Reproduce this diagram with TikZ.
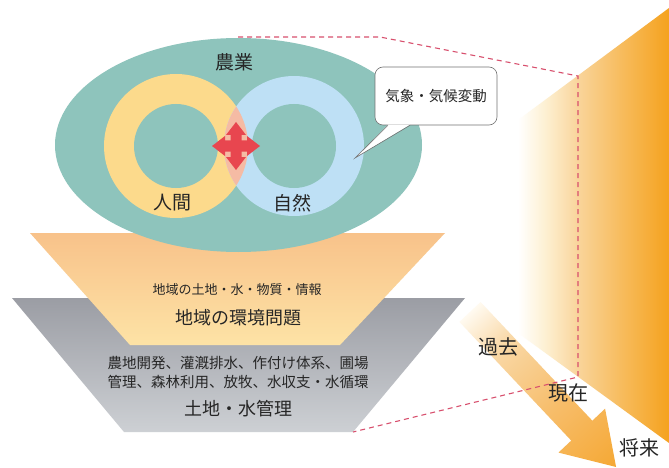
\documentclass[tikz,border=0pt]{standalone}
\usepackage{fontspec}
\setmainfont{Noto Sans CJK JP}
\definecolor{txt}{HTML}{262626}
\definecolor{tealc}{HTML}{8EC4BC}
\definecolor{ringy}{HTML}{FCDA8C}
\definecolor{ringb}{HTML}{BEE0F5}
\definecolor{pinkov}{HTML}{F5BBA4}
\definecolor{crossred}{HTML}{E8464F}
\definecolor{oran1}{HTML}{F8C28A}
\definecolor{oran2}{HTML}{FDE3A6}
\definecolor{grey1}{HTML}{9B9DA4}
\definecolor{grey2}{HTML}{CDD0D4}
\definecolor{dashc}{HTML}{D8506E}
\definecolor{pwhite}{HTML}{FFFFFF}
\definecolor{pcream}{HTML}{FDF0D2}
\definecolor{plight}{HTML}{F9D49A}
\definecolor{pmid}{HTML}{F7BC5E}
\definecolor{pdeep}{HTML}{F5A21E}
\definecolor{a0}{HTML}{FFFAF0}
\definecolor{a1}{HTML}{F9D8A6}
\definecolor{a2}{HTML}{F7BD6A}
\definecolor{a3}{HTML}{F5A834}
\pgfdeclarehorizontalshading{panelshade}{100bp}{color(0bp)=(pwhite); color(25bp)=(pwhite); color(34bp)=(pcream); color(45bp)=(plight); color(59bp)=(pmid); color(75bp)=(pdeep); color(100bp)=(pdeep)}
\pgfdeclarehorizontalshading{arrowshade}{100bp}{color(0bp)=(a0); color(25bp)=(a0); color(36bp)=(a1); color(55bp)=(a2); color(75bp)=(a3); color(100bp)=(a3)}
\begin{document}
\begin{tikzpicture}[x=1pt,y=1pt,
  lab/.style={text=txt, inner sep=0pt},
  fbig/.style={font=\fontsize{19}{19}\selectfont},
  fmid/.style={font=\fontsize{14.5}{14.5}\selectfont},
  fsmall/.style={font=\fontsize{13}{13}\selectfont},
  pinkdash/.style={draw=dashc, line width=1.1pt, dash pattern=on 5pt off 4pt}]
\useasboundingbox (0,0) rectangle (669,-468);
\fill[white] (0,0) rectangle (669,-468);

% right perspective panel
\shade[shading=panelshade] (518,-120) -- (669,-8) -- (669,-443) -- (518,-333) -- cycle;

% time arrow
\begin{scope}[transform canvas={shift={(470,-312)}, rotate=-46.7}]
\shade[shading=arrowshade] (0,14.5) -- (163,14.5) -- (163,32) -- (213,0) -- (163,-32) -- (163,-14.5) -- (0,-14.5) -- cycle;
\end{scope}

% grey trapezoid
\shade[top color=grey1, bottom color=grey2] (12,-298) -- (465,-298) -- (353,-432) -- (124,-432) -- cycle;
% orange trapezoid
\shade[top color=oran1, bottom color=oran2] (30,-233) -- (445,-233) -- (340,-345) -- (130,-345) -- cycle;

% agriculture ellipse
\fill[tealc] (238.5,-145) ellipse [x radius=183.5, y radius=107];
% rings
\fill[ringy] (176,-146) circle (72);
\fill[ringb] (294,-146) circle (70);
\begin{scope}
  \clip (176,-146) circle (72);
  \fill[pinkov] (294,-146) circle (70);
\end{scope}
\fill[tealc] (176,-146) circle (42);
\fill[tealc] (294,-146) circle (42);

% four-way arrow
\foreach \a in {0,90,180,270}
  \fill[crossred, shift={(236,-146)}, rotate=\a]
    (0,-5.5) -- (11,-5.5) -- (11,-10) -- (24,0) -- (11,10) -- (11,5.5) -- (0,5.5) -- cycle;

% dashed guide lines
\coordinate (d1) at (238,-37);
\coordinate (d2) at (380,-37);
\coordinate (d3) at (578,-76);
\coordinate (d4) at (578,-377);
\coordinate (d5) at (353,-432);
\draw[pinkdash] (d1) -- (d2) -- (d3) -- (d4) -- (d5);

% speech bubble
\node[draw=black!55, line width=0.6pt, fill=white, rounded corners=8pt, minimum width=122pt, minimum height=58pt, inner sep=0pt, text=txt, fmid] (bub) at (436,-96) {気象・気候変動};
\coordinate (tip) at (355,-158);
\fill[white] ([xshift=-48pt,yshift=0.6pt]bub.south) -- (tip) -- ([xshift=-26pt,yshift=0.6pt]bub.south) -- cycle;
\draw[black!55, line width=0.6pt] ([xshift=-48pt]bub.south) -- (tip) -- ([xshift=-26pt]bub.south);

% labels
\node[lab, fbig] (nogyo) at (234,-62) {農業};
\node[lab, fbig] (ningen) at (172,-203) {人間};
\node[lab, fbig] (shizen) at (292,-203) {自然};
\node[lab, fsmall] (chiiki1) at (237,-290) {地域の土地・水・物質・情報};
\node[lab, font=\fontsize{18}{18}\selectfont] (chiiki2) at (238,-318) {地域の環境問題};
\node[lab, fmid] (kanri1) at (238,-363) {農地開発、灌漑排水、作付け体系、圃場};
\node[lab, fmid] (kanri2) at (238,-382) {管理、森林利用、放牧、水収支・水循環};
\node[lab, font=\fontsize{18}{18}\selectfont] (kanri3) at (238,-409) {土地・水管理};
\node[lab, font=\fontsize{20}{20}\selectfont] (kako) at (498,-347) {過去};
\node[lab, font=\fontsize{20}{20}\selectfont] (genzai) at (568,-393) {現在};
\node[lab, font=\fontsize{20}{20}\selectfont] (shorai) at (639,-448) {将来};
\end{tikzpicture}
\end{document}
